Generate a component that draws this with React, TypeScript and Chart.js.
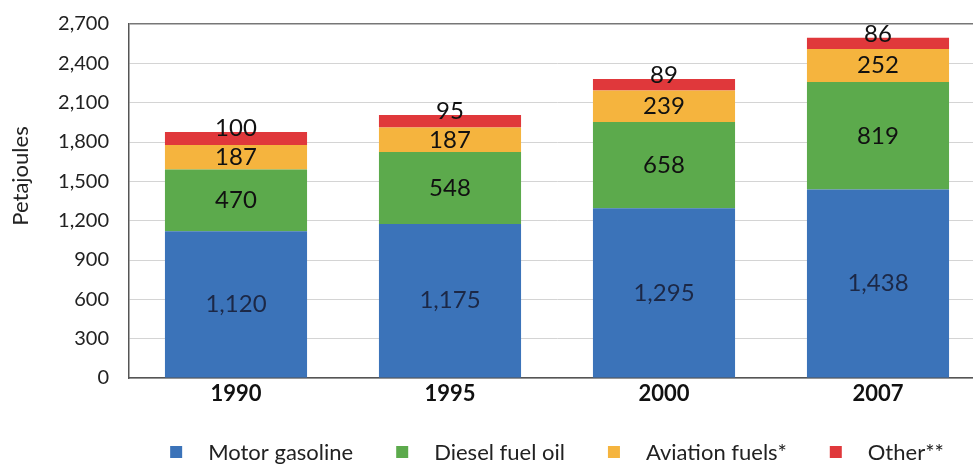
import React, { useEffect, useRef } from "react";
import { Chart, registerables } from "chart.js";

Chart.register(...registerables);

const years = ["1990", "1995", "2000", "2007"];
const seriesNames = ["Motor gasoline", "Diesel fuel oil", "Aviation fuels*", "Other**"];
const motorGasoline = [1120, 1175, 1295, 1438];
const dieselFuelOil = [470, 548, 658, 819];
const aviationFuels = [187, 187, 239, 252];
const other = [100, 95, 89, 86];
const yTicks = [0, 300, 600, 900, 1200, 1500, 1800, 2100, 2400, 2700];
const yTitle = "Petajoules";

const colors = ["#3b73b9", "#5caa4c", "#f5b43e", "#e0383b"];
const FONT = "Lato, 'Open Sans', sans-serif";

const fmt = (v: number) => v.toLocaleString("en-US");

const labelsPlugin = {
  id: "segLabels",
  afterDatasetsDraw(chart: any) {
    const ctx = chart.ctx;
    ctx.save();
    ctx.font = `24px ${FONT}`;
    ctx.textAlign = "center";
    ctx.textBaseline = "middle";
    chart.data.datasets.forEach((ds: any, di: number) => {
      const meta = chart.getDatasetMeta(di);
      meta.data.forEach((bar: any, i: number) => {
        const v = ds.data[i];
        let y = (bar.y + bar.base) / 2;
        if (di === 3) y = bar.y - 4;
        ctx.fillStyle = di === 0 ? "#1c2846" : "#111";
        ctx.fillText(fmt(v), bar.x, y);
      });
    });
    ctx.restore();
  },
};

const extrasPlugin = {
  id: "extras",
  afterDraw(chart: any) {
    const ctx = chart.ctx;
    const area = chart.chartArea;
    ctx.save();
    // y-axis title
    ctx.font = `22px ${FONT}`;
    ctx.fillStyle = "#222";
    ctx.textAlign = "center";
    ctx.textBaseline = "middle";
    ctx.translate(21, 176);
    ctx.rotate(-Math.PI / 2);
    ctx.fillText(yTitle, 0, 0);
    ctx.restore();

    // legend
    ctx.save();
    ctx.font = `22px ${FONT}`;
    ctx.textBaseline = "middle";
    ctx.textAlign = "left";
    const box = 12;
    const gap = 26;
    const spacing = 43;
    const widths = seriesNames.map((n) => box + gap + ctx.measureText(n).width);
    const total = widths.reduce((a, b) => a + b, 0) + spacing * (seriesNames.length - 1);
    let x = (area.left + area.right) / 2 - total / 2;
    const cy = 452;
    seriesNames.forEach((n, i) => {
      ctx.fillStyle = colors[i];
      ctx.fillRect(x, cy - box / 2, box, box);
      ctx.fillStyle = "#222";
      ctx.fillText(n, x + box + gap, cy + 1);
      x += widths[i] + spacing;
    });
    ctx.restore();
  },
};

export default function App() {
  const ref = useRef<HTMLCanvasElement | null>(null);
  useEffect(() => {
    if (!ref.current) return;
    const values = [motorGasoline, dieselFuelOil, aviationFuels, other];
    const chart = new Chart(ref.current, {
      type: "bar",
      data: {
        labels: years,
        datasets: seriesNames.map((name, i) => ({
          label: name,
          data: values[i],
          backgroundColor: colors[i],
          borderWidth: 0,
          barPercentage: 0.664,
          categoryPercentage: 1,
        })),
      },
      options: {
        animation: false,
        responsive: false,
        devicePixelRatio: 1,
        layout: { padding: { top: 24, right: 15, left: 0, bottom: 0 } },
        plugins: {
          legend: { display: false },
          tooltip: { enabled: false },
          title: { display: false },
        },
        scales: {
          x: {
            stacked: true,
            grid: { display: false, drawTicks: false },
            border: { display: true, color: "#555", width: 1.5 },
            ticks: {
              color: "#111",
              font: { family: FONT, size: 22, weight: "bold" },
              padding: 3,
            },
            afterFit: (s: any) => {
              s.height = 87;
              s.paddingLeft = 0;
              s.paddingRight = 0;
            },
          },
          y: {
            stacked: true,
            min: 0,
            max: 2700,
            afterBuildTicks: (s: any) => {
              s.ticks = yTicks.map((v) => ({ value: v }));
            },
            grid: {
              drawTicks: false,
              color: (c: any) => (c.tick && c.tick.value === 2700 ? "#777" : "#d4d4d4"),
              lineWidth: (c: any) => (c.tick && c.tick.value === 2700 ? 1.5 : 1),
            },
            border: { display: true, color: "#555", width: 1.5 },
            ticks: {
              color: "#222",
              font: { family: FONT, size: 20 },
              padding: 20,
              callback: (v: any) => fmt(Number(v)),
            },
            afterFit: (s: any) => {
              s.width = 129;
              s.paddingTop = 0;
              s.paddingBottom = 0;
            },
          },
        },
      },
      plugins: [labelsPlugin, extrasPlugin],
    });
    return () => chart.destroy();
  }, []);
  return (
    <div
      style={{
        position: "fixed",
        left: 0,
        top: 0,
        width: 1000,
        height: 465,
        overflow: "hidden",
        background: "#fff",
      }}
    >
      <canvas ref={ref} width={1000} height={465} style={{ width: 1000, height: 465, display: "block" }} />
    </div>
  );
}
